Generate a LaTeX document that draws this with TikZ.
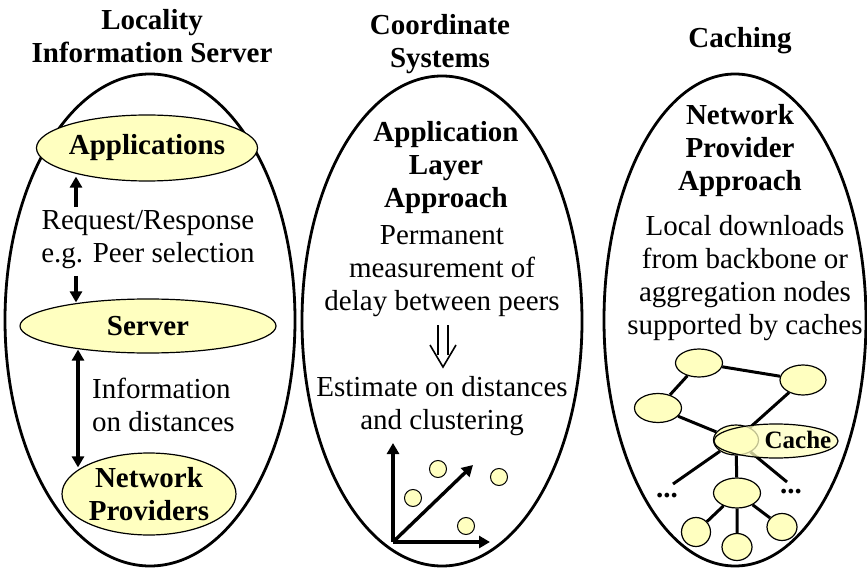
\documentclass[tikz,border=0pt]{standalone}
\usepackage{fontspec}
\setmainfont{Liberation Serif}
\usetikzlibrary{arrows.meta,shapes.geometric}
\definecolor{pale}{RGB}{255,255,192}
\pgfdeclarelayer{bg}
\pgfsetlayers{bg,main}
\begin{document}
\begin{tikzpicture}[x=1pt,y=-1pt,
  txt/.style={font=\fontsize{29}{33}\selectfont, align=center, inner sep=0pt},
  btxt/.style={font=\fontsize{29}{33}\selectfont\bfseries, align=center, inner sep=0pt},
  big/.style={ellipse, draw, line width=2.8pt, inner sep=0pt},
  yell/.style={ellipse, draw, fill=pale, line width=1.2pt, inner sep=0pt},
  arr/.style={line width=3.4pt, -{Triangle[length=11pt,width=12pt]}},
  darr/.style={line width=3.4pt, {Triangle[length=11pt,width=12pt]}-{Triangle[length=11pt,width=12pt]}},
  net/.style={line width=3pt},
  pt/.style={circle, draw, fill=pale, line width=1pt, minimum size=17pt, inner sep=0pt},
]
\useasboundingbox (0,0) rectangle (867,569);

% ---------- left column ----------
\node[btxt] (t1) at (152,36) {Locality\\Information Server};
\node[big, minimum width=290pt, minimum height=492pt] (L) at (150,320) {};
\node[yell, btxt, minimum width=184pt, minimum height=66pt] (app) at (147,148) {Applications};
\node[yell, btxt, minimum width=256pt, minimum height=54pt] (srv) at (148,326) {Server};
\node[yell, btxt, minimum width=174pt, minimum height=82pt] (np) at (149,494) {Network\\Providers};
\node[txt] (rq) at (148,240) {Request/Response\\e.g. Peer selection};
\node[txt, align=left, anchor=west] (inf) at (92,405) {Information\\on distances};
\coordinate (q1) at (76,207);
\coordinate (q2) at (76,276);
\coordinate (q3) at (78,360);
\draw[arr, shorten >=-5pt] (q1) -- (q1 |- app.south);
\draw[arr, shorten >=-4pt] (q2) -- (q2 |- srv.north);
\draw[darr, shorten <=-4pt, shorten >=-15pt] (q3 |- srv.south) -- (q3 |- np.north);

% ---------- middle column ----------
\node[btxt] (t2) at (440,44) {Coordinate\\Systems};
\node[big, minimum width=280pt, minimum height=490pt] (M) at (442,321) {};
\node[btxt] (ala) at (446,168) {Application\\Layer\\Approach};
\node[txt] (perm) at (442,271) {Permanent\\measurement of\\delay between peers};
\node[txt] (est) at (442,406) {Estimate on distances\\and clustering};
\draw[line width=1.6pt] (438,325) -- (438,355) (448,325) -- (448,355);
\draw[line width=1.6pt] (430,345) -- (443,367) -- (456,345);
\coordinate (o) at (393,542);
\coordinate (yt) at (393,443);
\coordinate (xt) at (490,542);
\coordinate (dt) at (473,465);
\draw[arr] (o) -- (yt);
\draw[arr] (o) -- (xt);
\draw[arr] (o) -- (dt);
\node[pt] (p1) at (438,469) {};
\node[pt] (p2) at (413,498) {};
\node[pt] (p3) at (499,477) {};
\node[pt] (p4) at (466,526) {};

% ---------- right column ----------
\node[btxt] (t3) at (740,41) {Caching};
\node[big, minimum width=262pt, minimum height=492pt] (R) at (735,320) {};
\node[btxt] (npa) at (740,151) {Network\\Provider\\Approach};
\node[txt] (loc) at (745,278) {Local downloads\\from backbone or\\aggregation nodes\\supported by caches};

\node[yell, minimum width=47pt, minimum height=28pt] (A) at (699,363) {};
\node[yell, minimum width=46pt, minimum height=30pt] (B) at (803,380) {};
\node[yell, minimum width=47pt, minimum height=29pt] (C) at (658,408) {};
\node[yell, minimum width=45pt, minimum height=30pt] (D) at (736,440) {};
\node[yell, minimum width=47pt, minimum height=30pt] (E) at (737,493) {};
\node[yell, minimum width=29pt, minimum height=29pt] (F) at (696,532) {};
\node[yell, minimum width=30pt, minimum height=27pt] (G) at (737,547) {};
\node[yell, minimum width=30pt, minimum height=27pt] (H) at (782,527) {};
\coordinate (ld) at (673,484);
\coordinate (rd) at (787,482);
\node[btxt, anchor=base] (ldots) at (667,497) {...};
\node[btxt, anchor=base] (rdots) at (791,493) {...};
\begin{pgfonlayer}{bg}
\draw[net] (A) -- (B) (A) -- (C) (C) -- (D) (B) -- (D) (D) -- (E)
  (E) -- (F) (E) -- (G) (E) -- (H) (D) -- (ld) (D) -- (rd);
\end{pgfonlayer}
\node[ellipse, draw, fill=pale, fill opacity=0.75, line width=1.2pt, inner sep=0pt,
  minimum width=124pt, minimum height=34pt] (cache) at (776,441) {};
\node[font=\fontsize{25}{28}\selectfont\bfseries, inner sep=0pt] (ctext) at (798,440) {Cache};
\end{tikzpicture}
\end{document}
